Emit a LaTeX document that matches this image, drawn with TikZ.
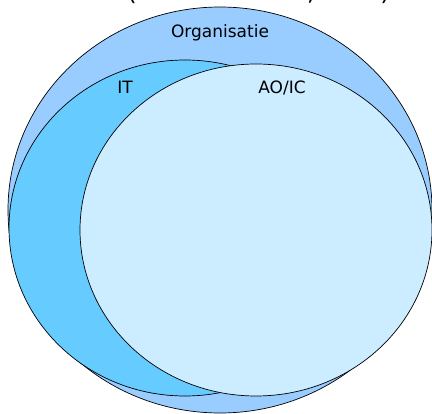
\documentclass[tikz,border=0pt]{standalone}
\usepackage{fontspec}
\setmainfont{DejaVu Sans}
\usepackage{xcolor}
\usetikzlibrary{shapes.geometric, positioning}

\definecolor{orgblue}{HTML}{99CCFF}
\definecolor{itblue}{HTML}{66CCFF}
\definecolor{aoblue}{HTML}{CCECFF}

\tikzset{
  set/.style={ellipse, draw=black, line width=0.7pt, inner sep=0pt},
  setlabel/.style={font=\fontsize{17}{20}\selectfont, inner sep=0pt, anchor=base},
  cuttitle/.style={font=\fontsize{24}{28}\selectfont, inner sep=0pt, anchor=base}
}

\begin{document}
\begin{tikzpicture}[x=1pt, y=-1pt]
        \useasboundingbox (0,0) rectangle (432,414);

        \node[set, fill=orgblue, minimum width=424pt, minimum height=406pt] (org)  at (220,210) {};
        \node[set, fill=itblue,  minimum width=352pt, minimum height=336pt] (it)   at (185,228) {};
        \node[set, fill=aoblue,  minimum width=352pt, minimum height=332pt] (aoic) at (256,230) {};

        \node[setlabel] (orglabel)  at (220,38) {Organisatie};
        \node[setlabel] (itlabel)   at (125,94) {IT};
        \node[setlabel] (aoiclabel) at (282,94) {AO/IC};

        % title above the picture, only its lowest part is in view
        \node[cuttitle] (titleopen)  at (132,1) {(};
        \node[cuttitle] (titlecomma) at (311,1) {,};
        \node[cuttitle] (titleclose) at (385,1) {)};
    \end{tikzpicture}
\end{document}
